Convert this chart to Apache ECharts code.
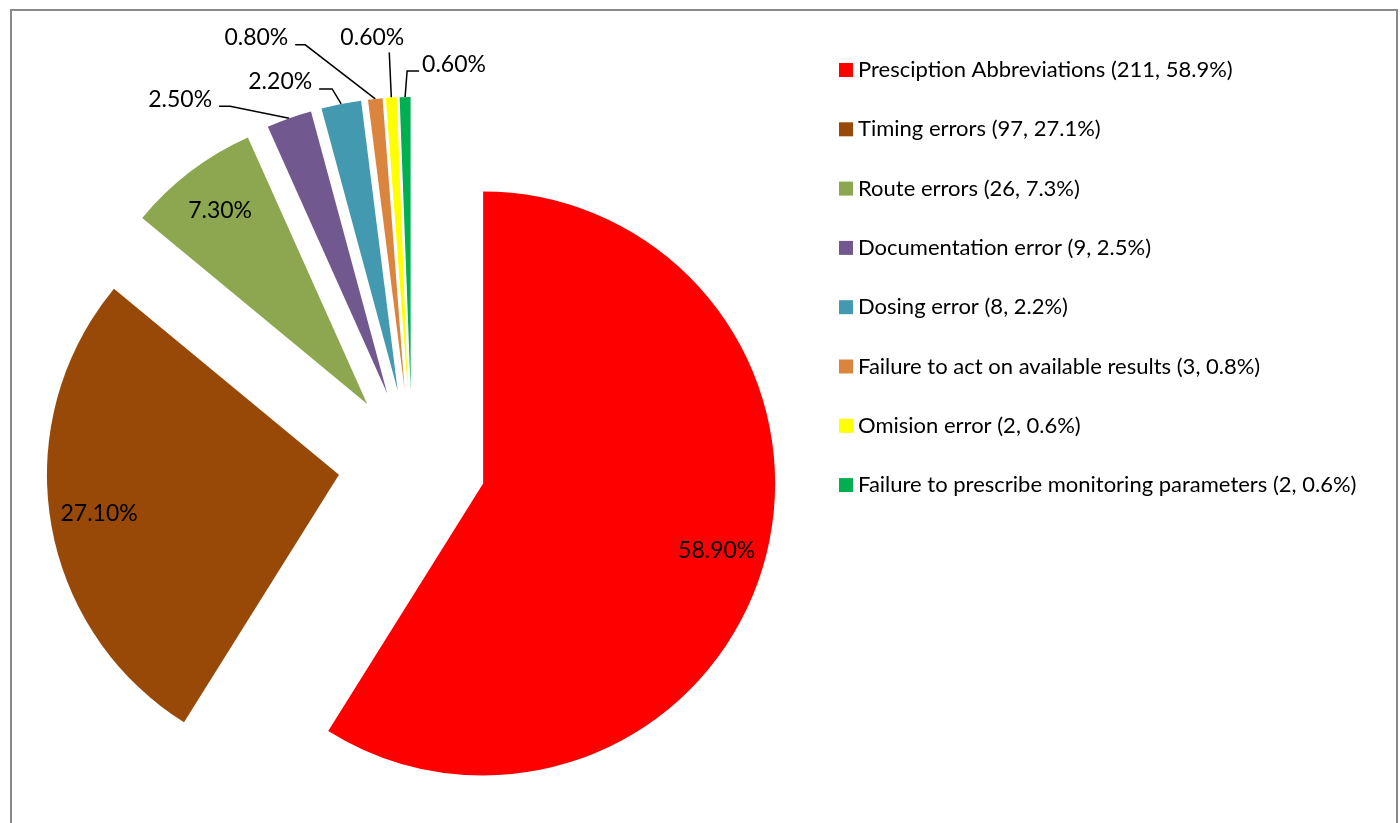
<!DOCTYPE html>
<html>
<head>
<meta charset="utf-8">
<script src="https://cdn.jsdelivr.net/npm/echarts@6/dist/echarts.min.js"></script>
<style>
  html, body { margin: 0; padding: 0; background: #fff; overflow: hidden; }
  #chart { width: 1400px; height: 823px; }
</style>
</head>
<body>
<div id="chart"></div>
<script>
// Prescribing error categories: counts and share of all errors (%)
const categories = [
  'Presciption Abbreviations',
  'Timing errors',
  'Route errors',
  'Documentation error',
  'Dosing error',
  'Failure to act on available results',
  'Omision error',
  'Failure to prescribe monitoring parameters'
];
const counts = [211, 97, 26, 9, 8, 3, 2, 2];
const shares = [58.9, 27.1, 7.3, 2.5, 2.2, 0.8, 0.6, 0.6];
const colors = ['#FF0000', '#984807', '#8DA750', '#715990', '#4299B0', '#DB843D', '#FFFF00', '#00B050'];

// Pie geometry
const CX = 412, CY = 463, R = 292, EXPLODE = 74;
const FONT = 'Lato, "Liberation Sans", sans-serif';

// Leader-line layout for the thin slices, relative to the slice's outer edge
const leaders = {
  3: { text: [-77, -19], align: 'right', elbow: [-59, -12], end: [-70, -12] },
  4: { text: [-29, -22], align: 'right', elbow: [-9, -15], end: [-22, -15] },
  5: { text: [-87, -61], align: 'right', elbow: [-70, -54], end: [-80, -54] },
  6: { text: [-19, -60], align: 'center', elbow: [-2, -44], end: [-2, -45] },
  7: { text: [17, -32], align: 'left', elbow: [2, -26], end: [14, -26] }
};

const total = shares.reduce((a, b) => a + b, 0);
// outer edge of an exploded slice, on its middle angle
function outerPoint(k) {
  let before = 0;
  for (let i = 0; i < k; i++) before += shares[i];
  const theta = (before + shares[k] / 2) / total * Math.PI * 2;
  const d = R + EXPLODE;
  return [CX + d * Math.sin(theta), CY - d * Math.cos(theta)];
}

const pct = p => p.value.toFixed(2) + '%';
const clear = 'rgba(0,0,0,0)';

const basePie = {
  type: 'pie',
  center: [CX, CY],
  startAngle: 90,
  clockwise: true,
  avoidLabelOverlap: false,
  emphasis: { disabled: true },
  tooltip: { show: false }
};

const chart = echarts.init(document.getElementById('chart'), null, { renderer: 'canvas' });
chart.setOption({
  animation: false,
  backgroundColor: '#fff',
  graphic: [{
    type: 'rect',
    shape: { x: 11, y: 10, width: 1386, height: 900 },
    style: { fill: 'none', stroke: '#898989', lineWidth: 2 },
    silent: true
  }],
  legend: {
    orient: 'vertical',
    left: 839,
    top: 58,
    padding: 0,
    itemWidth: 14,
    itemHeight: 14,
    itemGap: 35.3,
    icon: 'rect',
    data: categories,
    formatter: name => {
      const i = categories.indexOf(name);
      return name + ' (' + counts[i] + ', ' + shares[i].toFixed(1) + '%)';
    },
    textStyle: { fontFamily: FONT, fontSize: 22, lineHeight: 24, color: '#000' }
  },
  series: [
    Object.assign({}, basePie, {
      // exploded slices
      name: 'errors',
      radius: R,
      selectedMode: 'multiple',
      selectedOffset: EXPLODE,
      itemStyle: { borderWidth: 0 },
      label: { show: false },
      labelLine: { show: false },
      data: categories.map((n, i) => ({
        name: n,
        value: shares[i],
        selected: true,
        itemStyle: { color: colors[i] }
      }))
    }),
    Object.assign({}, basePie, {
      // transparent ring carrying the in-slice labels of the large slices
      name: 'inner labels',
      radius: [188, R],
      silent: true,
      selectedMode: 'multiple',
      selectedOffset: EXPLODE,
      itemStyle: { color: clear, borderWidth: 0 },
      label: { position: 'inside', formatter: pct, fontFamily: FONT, fontSize: 23, color: '#000' },
      labelLine: { show: false },
      data: categories.map((n, i) => ({
        name: n,
        value: shares[i],
        selected: true,
        label: { show: i < 3 }
      }))
    }),
    Object.assign({}, basePie, {
      // transparent layer carrying the leader-line labels of the thin slices
      name: 'outer labels',
      radius: R,
      silent: true,
      itemStyle: { color: clear, borderWidth: 0 },
      label: { position: 'outside', formatter: pct, fontFamily: FONT, fontSize: 23, color: '#000' },
      labelLine: { length: 10, length2: 10, lineStyle: { color: '#000', width: 1.5 } },
      labelLayout: function (p) {
        const s = leaders[p.dataIndex];
        if (!s) return {};
        const P = outerPoint(p.dataIndex);
        return {
          x: P[0] + s.text[0],
          y: P[1] + s.text[1],
          align: s.align,
          verticalAlign: 'middle',
          labelLinePoints: [
            P,
            [P[0] + s.elbow[0], P[1] + s.elbow[1]],
            [P[0] + s.end[0], P[1] + s.end[1]]
          ]
        };
      },
      data: categories.map((n, i) => ({
        name: n,
        value: shares[i],
        label: { show: i >= 3 },
        labelLine: { show: i >= 3 }
      }))
    })
  ]
});
</script>
</body>
</html>
